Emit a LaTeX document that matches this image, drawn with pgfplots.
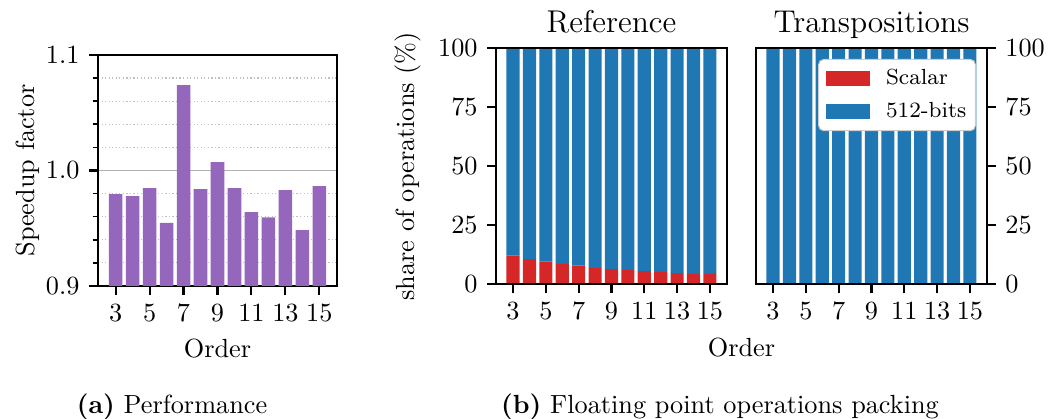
\documentclass[border=0pt]{standalone}
\usepackage{pgfplots}
\pgfplotsset{compat=1.18}
\definecolor{tabpurple}{HTML}{9467BD}
\definecolor{tabred}{HTML}{D62728}
\definecolor{tabblue}{HTML}{1F77B4}
\definecolor{gridgray}{HTML}{B0B0B0}
\pgfplotsset{
  common/.style={scale only axis, anchor=south west, tick align=outside,
    major tick length=3.5pt, minor tick length=2pt,
    major tick style={black, line width=0.8pt}, minor tick style={black, line width=0.6pt},
    axis line style={line width=0.8pt},
    every axis title shift=0pt,
    xmin=1.96, xmax=16.04, xtick={3,5,7,9,11,13,15}, xtick pos=left,
    tick label style={font=\fontsize{10}{12}\selectfont},
    label style={font=\fontsize{10}{12}\selectfont}},
}
\begin{document}
\begin{tikzpicture}
\useasboundingbox (0,0) rectangle (400pt,159.62pt);
% (a) Performance
\begin{axis}[common,
  at={(37.33pt,50.67pt)}, width=91.05pt, height=88pt,
  ymin=0.9, ymax=1.1, ytick={0.9,1.0,1.1}, yticklabels={0.9,1.0,1.1},
  minor ytick={0.92,0.94,0.96,0.98,1.02,1.04,1.06,1.08}, ytick pos=left,
  ymajorgrids, yminorgrids,
  major grid style={gridgray, line width=0.6pt},
  minor grid style={gridgray!80, line width=0.45pt, dash pattern=on 0.45pt off 0.9pt},
  ybar, bar width=0.8,
  ylabel={Speedup factor}, xlabel={Order},
  ylabel style={at={(axis description cs:-0.293,0.5)}, anchor=center},
  xlabel style={at={(axis description cs:0.5,-0.3117)}, anchor=base},
]
\addplot[fill=tabpurple, draw=none] coordinates {
(3,0.9795) (4,0.9777) (5,0.9847) (6,0.9546) (7,1.0740) (8,0.9838) (9,1.0072)
(10,0.9847) (11,0.9639) (12,0.9595) (13,0.9830) (14,0.9483) (15,0.9864)};
\end{axis}
% (b) Reference
\begin{axis}[common, axis on top,
  at={(188.95pt,51.31pt)}, width=88pt, height=89.9pt,
  ymin=0, ymax=100, ytick={0,25,50,75,100}, ytick pos=left,
  ybar stacked, bar width=0.8,
  ylabel={share of operations (\%)},
  ylabel style={at={(axis description cs:-0.38,0.5)}, anchor=center},
  title={Reference},
  title style={at={(axis description cs:0.5,1.069)}, anchor=base, font=\fontsize{12}{14}\selectfont},
]
\addplot[fill=tabred, draw=none] coordinates {
(3,12.1) (4,10.7) (5,9.6) (6,8.7) (7,7.9) (8,7.0) (9,6.4)
(10,6.0) (11,5.6) (12,5.3) (13,4.7) (14,4.4) (15,4.4)};
\addplot[fill=tabblue, draw=none] coordinates {
(3,87.9) (4,89.3) (5,90.4) (6,91.3) (7,92.1) (8,93.0) (9,93.6)
(10,94.0) (11,94.4) (12,94.7) (13,95.3) (14,95.6) (15,95.6)};
\end{axis}
% (b) Transpositions
\begin{axis}[common, axis on top,
  at={(288pt,51.31pt)}, width=88pt, height=89.9pt,
  ymin=0, ymax=100, ytick={0,25,50,75,100}, ytick pos=right, yticklabel pos=right,
  ybar stacked, bar width=0.8,
  title={Transpositions},
  title style={at={(axis description cs:0.5,1.069)}, anchor=base, font=\fontsize{12}{14}\selectfont},
  legend image code/.code={\fill[#1, sharp corners] (0pt,-2.85pt) rectangle (16.7pt,2.85pt);},
  legend cell align=left,
  legend style={at={(axis description cs:0.952,0.955)}, anchor=north east,
    font=\fontsize{8.33}{10}\selectfont, draw=black!20, rounded corners=2pt,
    fill=white, inner xsep=3pt, inner ysep=3pt,
    nodes={inner xsep=0.5pt, inner ysep=0.5pt},
    /tikz/every odd column/.append style={column sep=5.5pt},
    row sep=4.5pt},
]
\addplot[fill=tabred, draw=none] coordinates {
(3,0) (4,0) (5,0) (6,0) (7,0) (8,0) (9,0)
(10,0) (11,0) (12,0) (13,0) (14,0) (15,0)};
\addlegendentry{Scalar}
\addplot[fill=tabblue, draw=none] coordinates {
(3,100) (4,100) (5,100) (6,100) (7,100) (8,100) (9,100)
(10,100) (11,100) (12,100) (13,100) (14,100) (15,100)};
\addlegendentry{512-bits}
\end{axis}
\node[anchor=base, inner sep=0] at (282.48pt,23.62pt) {Order};
\node[anchor=base, inner sep=0] at (65.52pt,2.0pt) {\textbf{(a)} Performance};
\node[anchor=base, inner sep=0] at (274.29pt,2.0pt) {\textbf{(b)} Floating point operations packing};
\end{tikzpicture}
\end{document}
